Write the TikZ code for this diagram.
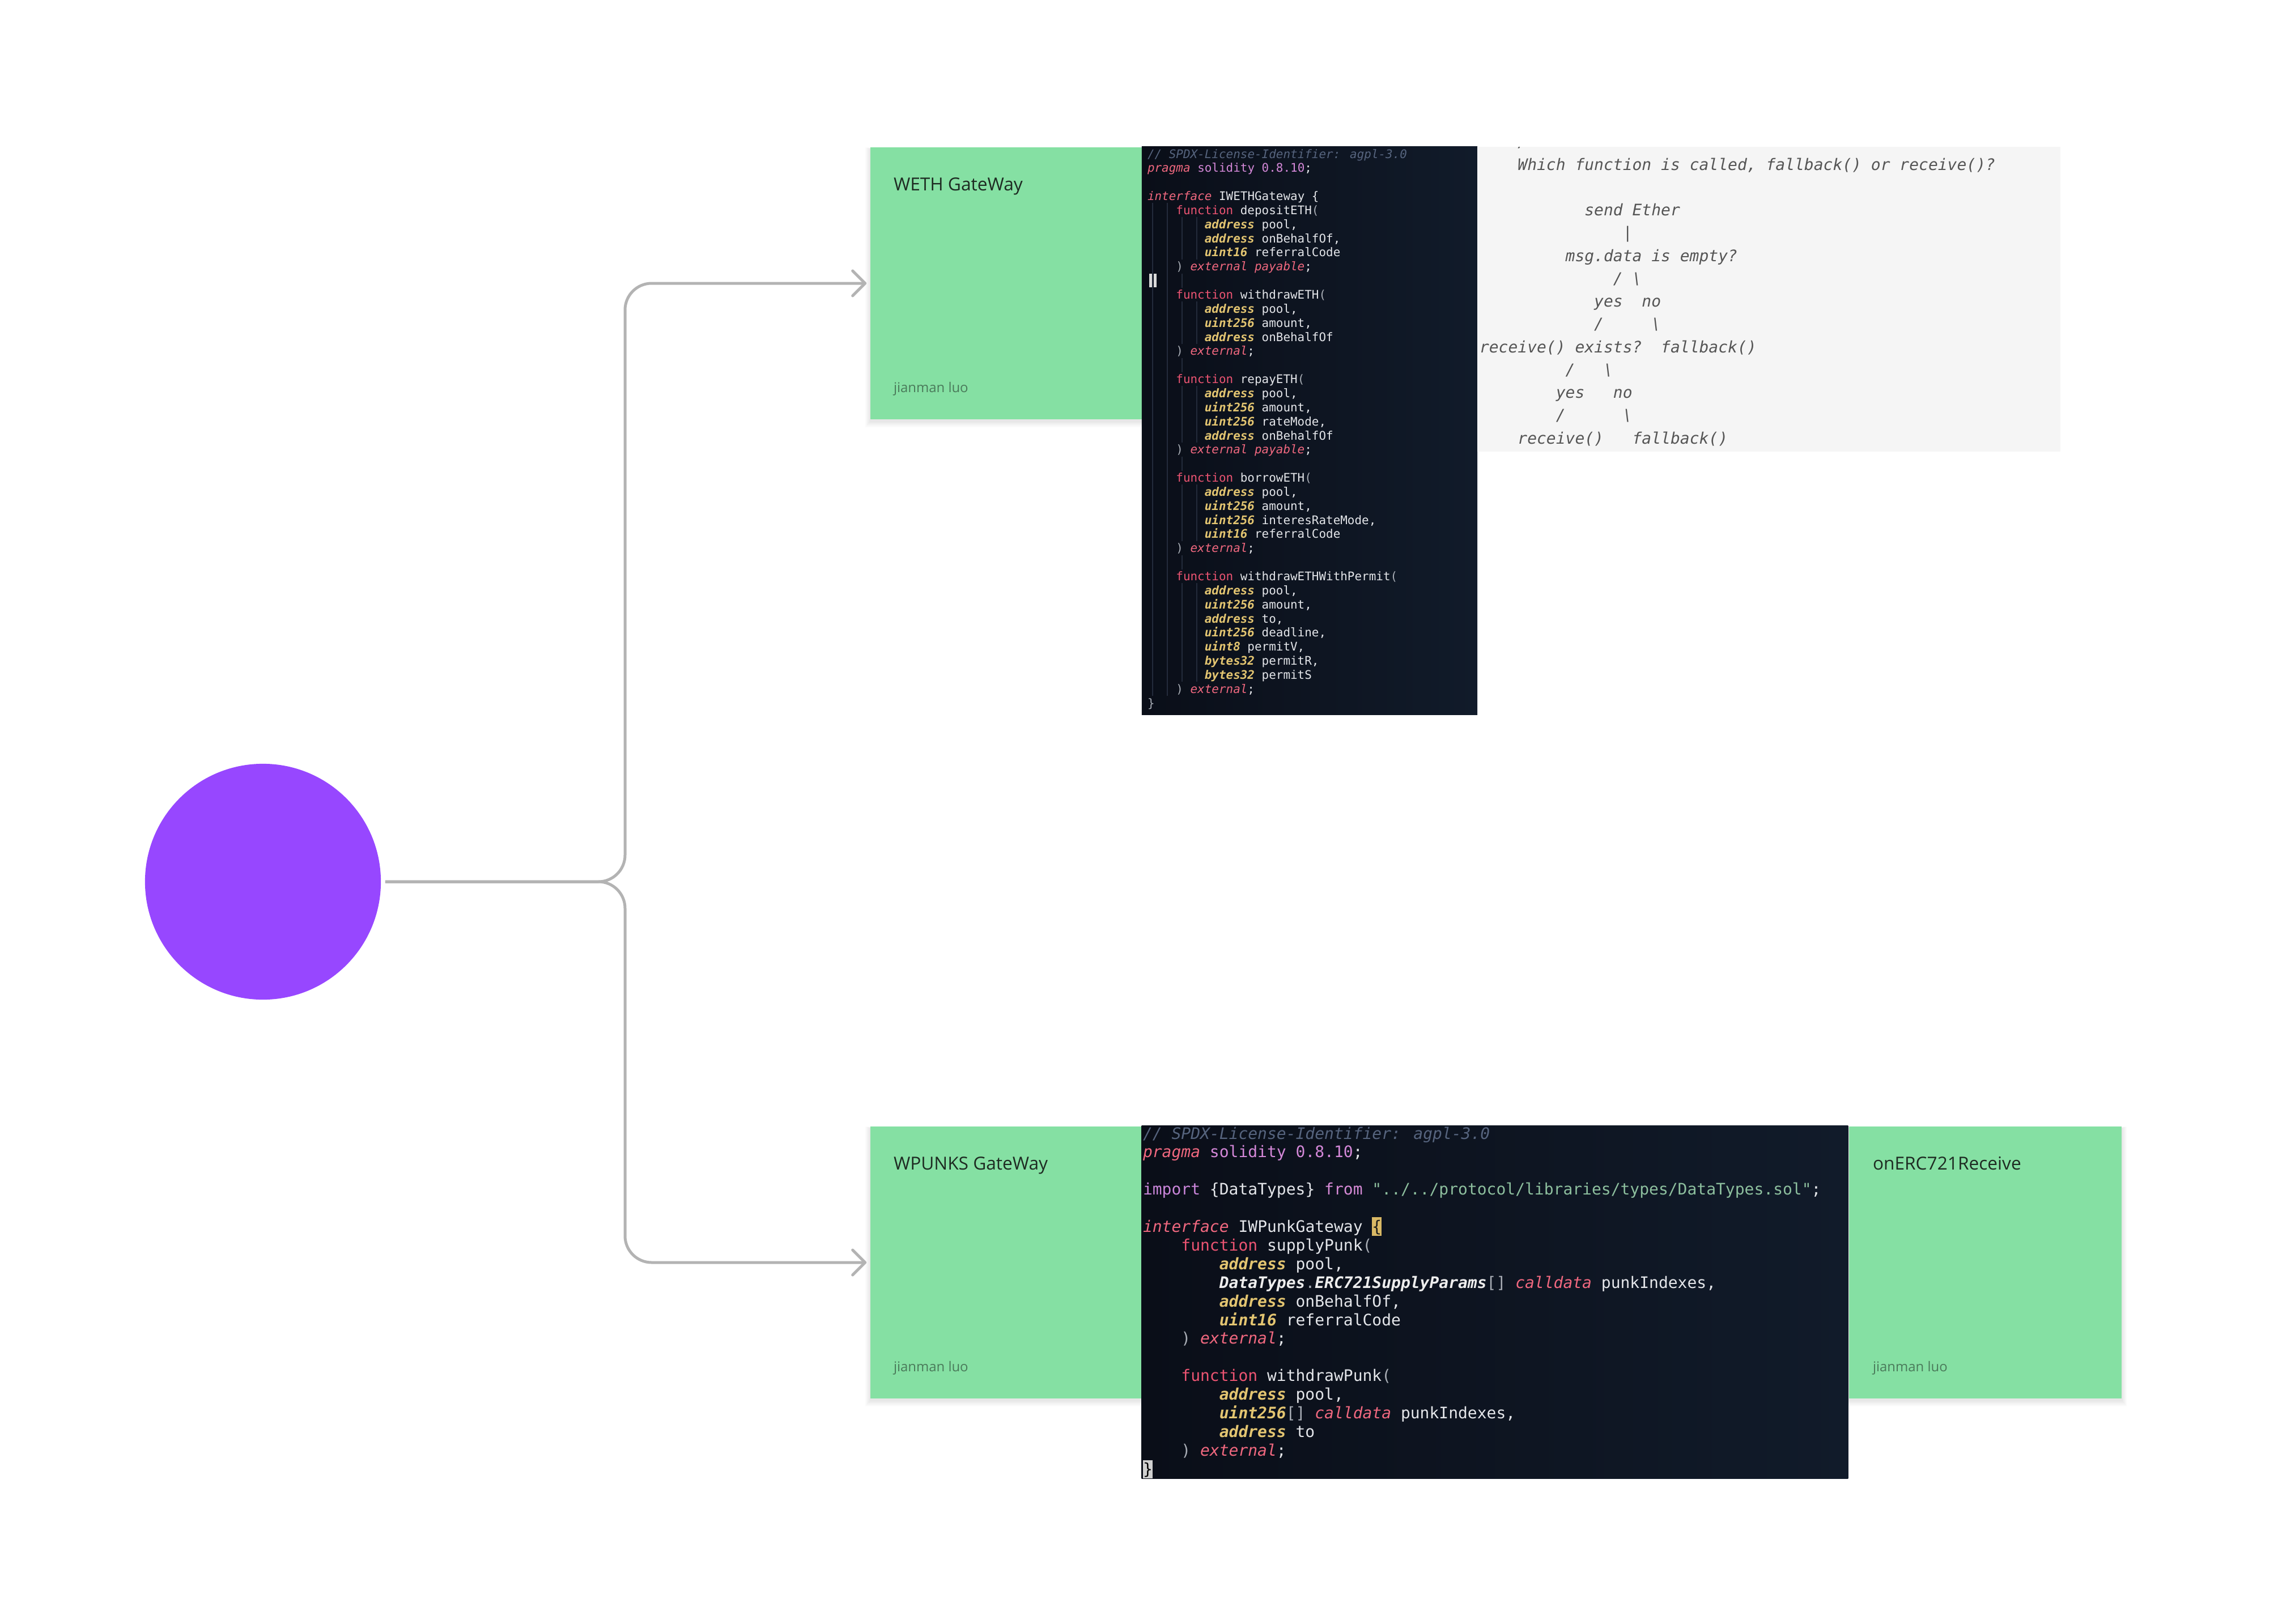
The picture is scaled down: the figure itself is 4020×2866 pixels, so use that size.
\documentclass[tikz,border=0pt]{standalone}
\usepackage{fontspec}
\setmainfont{Open Sans}
\newfontfamily\codefont{DejaVu Sans Mono}
\newfontfamily\stickyfont{Open Sans}
\usetikzlibrary{arrows.meta}

\definecolor{hubc}{HTML}{9747FF}
\definecolor{stickyc}{HTML}{85E0A3}
\definecolor{titlec}{HTML}{1E2B22}
\definecolor{authc}{HTML}{4A7A5A}
\definecolor{connc}{HTML}{B3B3B3}
\definecolor{cbgA}{HTML}{0A0E18}
\definecolor{cbgB}{HTML}{111B2A}
\definecolor{grayb}{HTML}{F5F5F5}
\definecolor{graytxt}{HTML}{555555}
\definecolor{ccm}{HTML}{56647E}
\definecolor{cpk}{HTML}{F0687F}
\definecolor{cfn}{HTML}{EC5472}
\definecolor{cty}{HTML}{E3C571}
\definecolor{cpu}{HTML}{D488D8}
\definecolor{cim}{HTML}{C985D9}
\definecolor{cfr}{HTML}{D68AD6}
\definecolor{cst}{HTML}{8DBF9E}
\definecolor{cbi}{HTML}{EDEDED}
\definecolor{cbr}{HTML}{A8ADB5}
\definecolor{cid}{HTML}{E4E6EA}
\definecolor{hlbg}{HTML}{D9B865}
\definecolor{hlfg}{HTML}{1A1A1A}
\definecolor{curbg}{HTML}{D0D0D0}
\definecolor{guidec}{HTML}{232B3B}
\definecolor{markc}{HTML}{DADADA}

\newcommand\fA{\codefont\fontsize{5.955pt}{7.07pt}\selectfont}
\newcommand\fB{\codefont\fontsize{7.96pt}{9.36pt}\selectfont}
\newcommand\fG{\codefont\itshape\fontsize{7.96pt}{11.45pt}\selectfont}

\newcommand\Ccm[1]{{\itshape\color{ccm}#1}}
\newcommand\Cpk[1]{{\itshape\color{cpk}#1}}
\newcommand\Cfn[1]{{\color{cfn}#1}}
\newcommand\Cty[1]{{\bfseries\itshape\color{cty}#1}}
\newcommand\Cpu[1]{{\color{cpu}#1}}
\newcommand\Cim[1]{{\color{cim}#1}}
\newcommand\Cfr[1]{{\color{cfr}#1}}
\newcommand\Cst[1]{{\color{cst}#1}}
\newcommand\Cbi[1]{{\bfseries\itshape\color{cbi}#1}}
\newcommand\Cbr[1]{{\color{cbr}#1}}

\newcommand\codeA[3]{\node[ctA] (a#1) at ({2025+#2*12.6},{279+(#1-1)*24.85}) {#3};}
\newcommand\codeB[3]{\node[ctB] (b#1) at ({2017+#2*16.85},{2010+(#1-1)*32.9}) {#3};}
\newcommand\grayL[3]{\node[ctG] (g#1) at ({2611+#2*16.85},{300+(#1-1)*40.25}) {#3};}
\newcommand\guideseg[3]{\draw[guide] (#1,{279+(#2-1)*24.85-20}) -- (#1,{279+(#3-1)*24.85+4.85});}
\newcommand\softshadow[4]{\foreach \k in {1,...,6}{\fill[black,opacity=0.014] ({#1-1.5*\k},{#2+3-0.5*\k}) rectangle ({#3+1.5*\k},{#4+3+1.8*\k});}}

\tikzset{
  hub/.style={circle, fill=hubc, draw=none, minimum size=4.16cm, inner sep=0pt},
  sticky/.style={rectangle, fill=stickyc, draw=none, minimum width=4.8cm, minimum height=4.8cm, inner sep=0pt},
  stitle/.style={anchor=base west, inner sep=0pt, outer sep=0pt, font=\stickyfont\fontsize{9pt}{11pt}\selectfont, text=titlec},
  sauth/.style={anchor=base west, inner sep=0pt, outer sep=0pt, font=\stickyfont\fontsize{6.8pt}{8pt}\selectfont, text=authc},
  codebg/.style={rectangle, draw=none, inner sep=0pt, left color=cbgA, right color=cbgB},
  graybox/.style={rectangle, draw=none, inner sep=0pt, fill=grayb},
  ctA/.style={anchor=base west, inner sep=0pt, outer sep=0pt, font=\fA, text=cid},
  ctB/.style={anchor=base west, inner sep=0pt, outer sep=0pt, font=\fB, text=cid},
  ctG/.style={anchor=base west, inner sep=0pt, outer sep=0pt, font=\fG, text=graytxt},
  guide/.style={draw=guidec, line width=0.6pt},
  conn/.style={draw=connc, line width=1.42pt, rounded corners=0.47cm,
    -{Straight Barb[length=0.22cm, width=0.44cm, round]}, shorten >=0.06cm}
}

\begin{document}
\begin{tikzpicture}[x=0.01cm, y=-0.01cm]
\useasboundingbox (0,0) rectangle (4020,2866);
\fill[white] (0,0) rectangle (4020,2866);

% hub
\node[hub] (hub) at (464,1556) {};

% sticky shadows
\softshadow{1536}{260}{2016}{740}
\softshadow{1536}{1988}{2016}{2468}
\softshadow{3263}{1988}{3744}{2468}

% sticky notes
\node[sticky] (weth) at (1776,500) {};
\node[sticky] (wpunks) at (1776,2228) {};
\node[sticky] (onerc) at (3503.5,2228) {};
\node[stitle] (wethT) at (1577,336) {WETH GateWay};
\node[sauth] (wethA) at (1577,692) {jianman luo};
\node[stitle] (wpunksT) at (1577,2064) {WPUNKS GateWay};
\node[sauth] (wpunksA) at (1577,2420) {jianman luo};
\node[stitle] (onercT) at (3305,2064) {onERC721Receive};
\node[sauth] (onercA) at (3305,2420) {jianman luo};

% connectors
\coordinate (jn) at (1103,1556);
\draw[conn] ([xshift=0.07cm]hub.east) -- (jn) |- (weth.west);
\draw[conn] ([xshift=0.07cm]hub.east) -- (jn) |- (wpunks.west);

% top code block
\node[codebg, minimum width=5.92cm, minimum height=10.02cm] (codeTop) at (2311,760) {};
\guideseg{2034}{5}{39}
\guideseg{2060}{5}{39}
\guideseg{2086}{6}{8}\guideseg{2086}{10}{10}\guideseg{2086}{12}{14}\guideseg{2086}{16}{16}
\guideseg{2086}{18}{21}\guideseg{2086}{23}{23}\guideseg{2086}{25}{28}\guideseg{2086}{30}{30}\guideseg{2086}{32}{38}
\guideseg{2112}{6}{8}\guideseg{2112}{12}{14}\guideseg{2112}{18}{21}\guideseg{2112}{25}{28}\guideseg{2112}{32}{38}
\fill[markc] (2028,483) rectangle (2033,507);
\fill[markc] (2035.5,483) rectangle (2040.5,507);
\begin{scope}
\clip (2015,259) rectangle (2607,1261);
\codeA{1}{0}{\Ccm{// SPDX-License-Identifier: agpl-3.0}}
\codeA{2}{0}{\Cpk{pragma} \Cpu{solidity 0.8.10};}
\codeA{4}{0}{\Cpk{interface} IWETHGateway \{}
\codeA{5}{4}{\Cfn{function} depositETH\Cbr{(}}
\codeA{6}{8}{\Cty{address} pool,}
\codeA{7}{8}{\Cty{address} onBehalfOf,}
\codeA{8}{8}{\Cty{uint16} referralCode}
\codeA{9}{4}{\Cbr{)} \Cpk{external payable};}
\codeA{11}{4}{\Cfn{function} withdrawETH\Cbr{(}}
\codeA{12}{8}{\Cty{address} pool,}
\codeA{13}{8}{\Cty{uint256} amount,}
\codeA{14}{8}{\Cty{address} onBehalfOf}
\codeA{15}{4}{\Cbr{)} \Cpk{external};}
\codeA{17}{4}{\Cfn{function} repayETH\Cbr{(}}
\codeA{18}{8}{\Cty{address} pool,}
\codeA{19}{8}{\Cty{uint256} amount,}
\codeA{20}{8}{\Cty{uint256} rateMode,}
\codeA{21}{8}{\Cty{address} onBehalfOf}
\codeA{22}{4}{\Cbr{)} \Cpk{external payable};}
\codeA{24}{4}{\Cfn{function} borrowETH\Cbr{(}}
\codeA{25}{8}{\Cty{address} pool,}
\codeA{26}{8}{\Cty{uint256} amount,}
\codeA{27}{8}{\Cty{uint256} interesRateMode,}
\codeA{28}{8}{\Cty{uint16} referralCode}
\codeA{29}{4}{\Cbr{)} \Cpk{external};}
\codeA{31}{4}{\Cfn{function} withdrawETHWithPermit\Cbr{(}}
\codeA{32}{8}{\Cty{address} pool,}
\codeA{33}{8}{\Cty{uint256} amount,}
\codeA{34}{8}{\Cty{address} to,}
\codeA{35}{8}{\Cty{uint256} deadline,}
\codeA{36}{8}{\Cty{uint8} permitV,}
\codeA{37}{8}{\Cty{bytes32} permitR,}
\codeA{38}{8}{\Cty{bytes32} permitS}
\codeA{39}{4}{\Cbr{)} \Cpk{external};}
\codeA{40}{0}{\Cbr{\}}}
\end{scope}

% gray explanation block
\node[graybox, minimum width=10.29cm, minimum height=5.38cm] (grayBlk) at (3121.5,528) {};
\begin{scope}
\clip (2607,259) rectangle (3636,797);
\grayL{0}{4}{/*}
\grayL{1}{4}{Which function is called, fallback() or receive()?}
\grayL{3}{11}{send Ether}
\grayL{4}{15}{|}
\grayL{5}{9}{msg.data is empty?}
\grayL{6}{14}{/~\textbackslash}
\grayL{7}{12}{yes~~no}
\grayL{8}{12}{/~~~~~\textbackslash}
\grayL{9}{0}{receive() exists?~~fallback()}
\grayL{10}{9}{/~~~\textbackslash}
\grayL{11}{8}{yes~~~no}
\grayL{12}{8}{/~~~~~~\textbackslash}
\grayL{13}{4}{receive()~~~fallback()}
\end{scope}

% bottom code block
\node[codebg, minimum width=12.46cm, minimum height=6.22cm] (codeBot) at (2638,2298) {};
\begin{scope}
\clip (2015,1987) rectangle (3261,2609);
\fill[hlbg] (2421.4,2148) rectangle (2438.3,2181);
\fill[curbg] (2017,2577) rectangle (2034,2609);
\codeB{1}{0}{\Ccm{// SPDX-License-Identifier: agpl-3.0}}
\codeB{2}{0}{\Cpk{pragma} \Cpu{solidity 0.8.10};}
\codeB{4}{0}{\Cim{import} \{DataTypes\} \Cfr{from} \Cst{"../../protocol/libraries/types/DataTypes.sol"};}
\codeB{6}{0}{\Cpk{interface} IWPunkGateway {\color{hlfg}\{}}
\codeB{7}{4}{\Cfn{function} supplyPunk\Cbr{(}}
\codeB{8}{8}{\Cty{address} pool,}
\codeB{9}{8}{\Cbi{DataTypes}\Cbr{.}\Cbi{ERC721SupplyParams}\Cbr{[]} \Cpk{calldata} punkIndexes,}
\codeB{10}{8}{\Cty{address} onBehalfOf,}
\codeB{11}{8}{\Cty{uint16} referralCode}
\codeB{12}{4}{\Cbr{)} \Cpk{external};}
\codeB{14}{4}{\Cfn{function} withdrawPunk\Cbr{(}}
\codeB{15}{8}{\Cty{address} pool,}
\codeB{16}{8}{\Cty{uint256}\Cbr{[]} \Cpk{calldata} punkIndexes,}
\codeB{17}{8}{\Cty{address} to}
\codeB{18}{4}{\Cbr{)} \Cpk{external};}
\codeB{19}{0}{{\color{black}\}}}
\end{scope}
\end{tikzpicture}
\end{document}
